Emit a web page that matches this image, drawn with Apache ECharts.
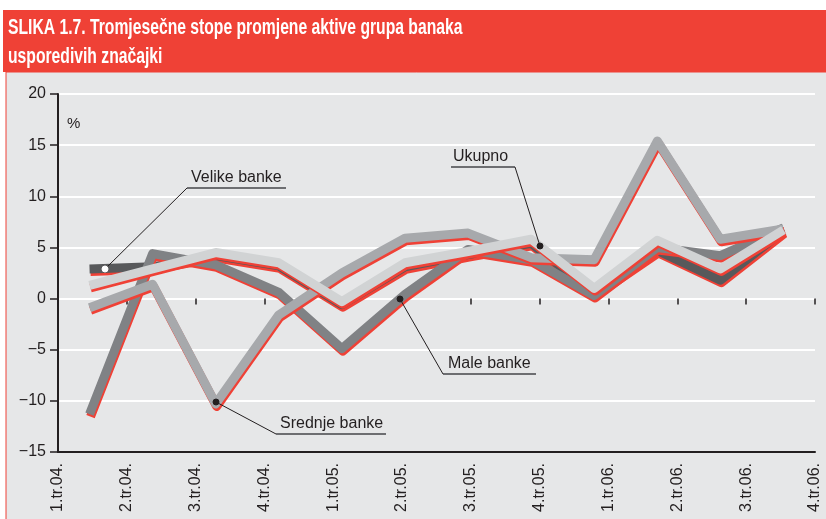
<!DOCTYPE html>
<html>
<head>
<meta charset="utf-8">
<script src="https://cdn.jsdelivr.net/npm/echarts@6/dist/echarts.min.js"></script>
<style>
  html, body { margin: 0; padding: 0; background: #fff; }
  #main { width: 826px; height: 519px; }
</style>
</head>
<body>
<div id="main"></div>
<script>
// quarters (tick labels)
var quarters = ['1.tr.04.', '2.tr.04.', '3.tr.04.', '4.tr.04.',
  '1.tr.05.', '2.tr.05.', '3.tr.05.', '4.tr.05.',
  '1.tr.06.', '2.tr.06.', '3.tr.06.', '4.tr.06.'];

// quarterly change rates, %
var velike = [2.9, 3.1, 4.2, 3.2, -0.6, 3.1, 4.3, 5.4, 0.5, 4.7, 1.8, 6.6];
var male = [-11.3, 4.4, 3.3, 0.6, -4.9, 0.4, 4.8, 3.8, 0.3, 5.0, 4.2, 6.9];
var srednje = [-0.9, 1.4, -10.3, -1.6, 2.5, 5.9, 6.4, 4.0, 3.8, 15.4, 5.8, 6.8];
var ukupno = [1.3, 2.9, 4.5, 3.5, -0.3, 3.5, 4.6, 5.8, 1.0, 5.7, 2.9, 6.7];

var red = '#EF4136';
var ink = '#231F20';
var font = '"Liberation Sans", Arial, sans-serif';

var chart = echarts.init(document.getElementById('main'));

function bankLine(name, data, color) {
  return {
    name: name,
    type: 'line',
    xAxisIndex: 1,
    data: data,
    symbol: 'none',
    silent: true,
    lineStyle: {
      color: color,
      width: 9,
      join: 'round',
      cap: 'butt',
      shadowColor: red,
      shadowBlur: 0,
      shadowOffsetX: 1,
      shadowOffsetY: 2.5
    }
  };
}

// annotation: label text, underline and leader line to a dot
function note(text, tx, ty, ux1, ux2, uy, lx, dx, dy, dotFill) {
  return [
    { type: 'text', x: tx, y: ty, z: 50,
      style: { text: text, fill: ink, font: '16px ' + font, textVerticalAlign: 'middle' } },
    { type: 'line', z: 50, shape: { x1: ux1, y1: uy, x2: ux2, y2: uy },
      style: { stroke: '#6D6E71', lineWidth: 2 } },
    { type: 'line', z: 50, shape: { x1: lx, y1: uy, x2: dx, y2: dy },
      style: { stroke: ink, lineWidth: 1 } },
    { type: 'circle', z: 51, shape: { cx: dx, cy: dy, r: 3 },
      style: { fill: dotFill, stroke: dotFill === '#fff' ? '#fff' : ink, lineWidth: 1 } }
  ];
}

var graphics = [
  { type: 'rect', z: -10, shape: { x: 6, y: 72, width: 830, height: 460 },
    style: { fill: '#E6E7E8', stroke: red, lineWidth: 1 } },
  { type: 'rect', z: -9, shape: { x: 3, y: 10, width: 830, height: 62 },
    style: { fill: red } },
  { type: 'text', x: 8, y: 28, scaleX: 0.73, z: -8,
    style: { text: 'SLIKA 1.7. Tromjesečne stope promjene aktive grupa banaka',
      fill: '#fff', font: 'bold 21.5px ' + font, textVerticalAlign: 'middle' } },
  { type: 'text', x: 8, y: 57, scaleX: 0.73, z: -8,
    style: { text: 'usporedivih značajki',
      fill: '#fff', font: 'bold 21.5px ' + font, textVerticalAlign: 'middle' } },
  { type: 'text', x: 67, y: 124, z: 50,
    style: { text: '%', fill: ink, font: '15px ' + font, textVerticalAlign: 'middle' } }
]
  .concat(note('Velike banke', 191, 178, 187, 286, 188, 187, 105, 269, '#fff'))
  .concat(note('Ukupno', 453, 157, 451, 515, 167, 515, 540, 246, ink))
  .concat(note('Male banke', 448, 364, 443, 536, 374, 443, 400, 299, ink))
  .concat(note('Srednje banke', 280, 424, 276, 386, 434, 276, 216, 402, ink));

var option = {
  animation: false,
  backgroundColor: '#fff',
  textStyle: { fontFamily: font },
  grid: { left: 58, right: 11, top: 94, bottom: 67 },
  xAxis: [
    {
      type: 'category',
      data: quarters,
      boundaryGap: false,
      axisLine: { show: false },
      axisTick: { show: true, length: 6, alignWithLabel: true,
        lineStyle: { color: ink, width: 1.5 } },
      axisLabel: { interval: 0, rotate: 90, margin: 11, fontSize: 16, color: ink,
        fontFamily: font },
      splitLine: { show: false }
    },
    {
      type: 'category',
      data: quarters,
      boundaryGap: true,
      position: 'bottom',
      axisLine: { show: true, onZero: true, lineStyle: { color: ink, width: 2 } },
      axisTick: { show: false },
      axisLabel: { show: false },
      splitLine: { show: false }
    }
  ],
  yAxis: {
    type: 'value',
    min: -15,
    max: 20,
    interval: 5,
    axisLine: { show: true, onZero: false, lineStyle: { color: ink, width: 2 } },
    axisTick: { show: true, length: 8, lineStyle: { color: ink, width: 1.5 } },
    axisLabel: { fontSize: 16, color: ink, margin: 12, fontFamily: font,
      formatter: function (v) { return String(v).replace('-', '\u2212'); } },
    splitLine: { show: true, lineStyle: { color: '#fff', width: 2 } }
  },
  graphic: graphics,
  series: [
    bankLine('Velike banke', velike, '#58595B'),
    bankLine('Male banke', male, '#808285'),
    bankLine('Srednje banke', srednje, '#A7A9AC'),
    bankLine('Ukupno', ukupno, '#D1D3D4')
  ]
};

chart.setOption(option);
</script>
</body>
</html>
